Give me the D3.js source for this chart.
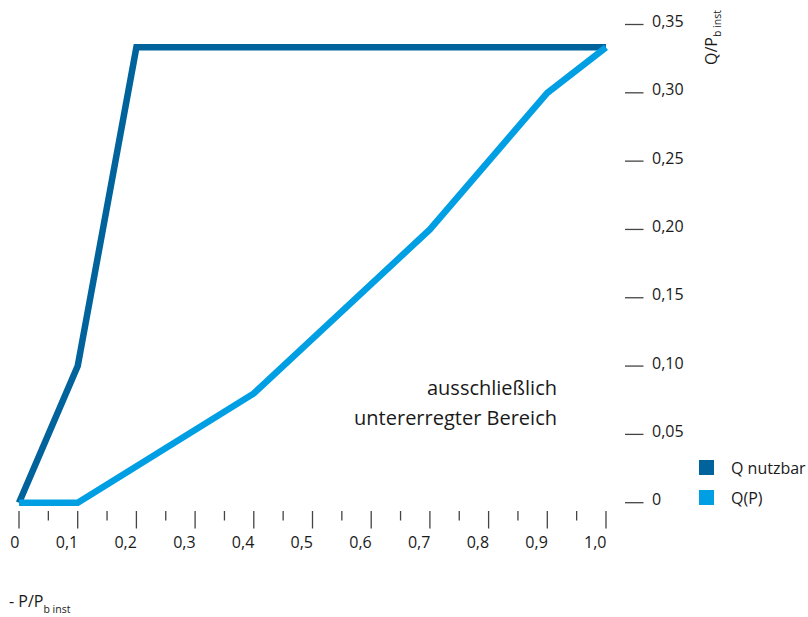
<!DOCTYPE html>
<html>
<head>
<meta charset="utf-8">
<script src="https://cdn.jsdelivr.net/npm/d3@7"></script>
<style>
  html, body { margin: 0; padding: 0; background: #fff; }
  svg { display: block; font-family: "Open Sans", "Noto Sans", sans-serif; }
</style>
</head>
<body>
<svg id="chart" width="808" height="617"></svg>
<script>
// ---- data ----
const seriesNames = ["Q nutzbar", "Q(P)"];
const seriesColors = ["#00639b", "#009fe3"];
const qNutzbarX = [0, 0.1, 0.2, 1.0];
const qNutzbarY = [0, 0.1, 0.3333, 0.3333];
const qpX = [0, 0.1, 0.4, 0.7, 0.9, 1.0];
const qpY = [0, 0, 0.08, 0.2, 0.3, 0.3333];
const xTicks = [0, 0.1, 0.2, 0.3, 0.4, 0.5, 0.6, 0.7, 0.8, 0.9, 1.0];
const xTickLabels = ["0", "0,1", "0,2", "0,3", "0,4", "0,5", "0,6", "0,7", "0,8", "0,9", "1,0"];
const xMinorTicks = [0.05, 0.15, 0.25, 0.35, 0.45, 0.55, 0.65, 0.75, 0.85, 0.95];
const yTicks = [0, 0.05, 0.1, 0.15, 0.2, 0.25, 0.3, 0.35];
const yTickLabels = ["0", "0,05", "0,10", "0,15", "0,20", "0,25", "0,30", "0,35"];
const annotationLines = ["ausschließlich", "untererregter Bereich"];

// ---- layout ----
const svg = d3.select("#chart");
const x = d3.scaleLinear().domain([0, 1]).range([19, 606]);
const y = d3.scaleLinear().domain([0, 0.35]).range([502.7, 24.5]);
const textColor = "#1a1a1a";
const tickColor = "#444";

// x axis ticks (major + minor)
const xAxisG = svg.append("g");
xAxisG.selectAll("line.major").data(xTicks).join("line")
  .attr("class", "major")
  .attr("x1", d => x(d)).attr("x2", d => x(d))
  .attr("y1", 511).attr("y2", 528.5)
  .attr("stroke", tickColor).attr("stroke-width", 1.3);
xAxisG.selectAll("line.minor").data(xMinorTicks).join("line")
  .attr("class", "minor")
  .attr("x1", d => x(d)).attr("x2", d => x(d))
  .attr("y1", 511).attr("y2", 520.5)
  .attr("stroke", tickColor).attr("stroke-width", 1.3);
xAxisG.selectAll("text").data(xTicks).join("text")
  .attr("x", d => x(d) + 0.5).attr("y", 548)
  .attr("text-anchor", "end")
  .attr("font-size", 16).attr("fill", textColor)
  .text((d, i) => xTickLabels[i]);

// y axis ticks (on right)
const yAxisG = svg.append("g");
yAxisG.selectAll("line").data(yTicks).join("line")
  .attr("x1", 625).attr("x2", 643.5)
  .attr("y1", d => y(d)).attr("y2", d => y(d))
  .attr("stroke", tickColor).attr("stroke-width", 1.3);
yAxisG.selectAll("text").data(yTicks).join("text")
  .attr("x", 652).attr("y", d => y(d) + 2.5)
  .attr("font-size", 16).attr("fill", textColor)
  .text((d, i) => yTickLabels[i]);

// y axis title (rotated)
const yt = svg.append("text")
  .attr("transform", "translate(717,65) rotate(-90)")
  .attr("font-size", 16).attr("fill", textColor);
yt.append("tspan").text("Q/P");
yt.append("tspan").attr("font-size", 10.5).attr("dy", 3.5).text("b inst");

// x axis title
const xt = svg.append("text")
  .attr("x", 9).attr("y", 607)
  .attr("font-size", 16).attr("fill", textColor);
xt.append("tspan").text("- P/P");
xt.append("tspan").attr("font-size", 10.5).attr("dy", 6).text("b inst");

// lines
const line = d3.line().x(d => x(d[0])).y(d => y(d[1]));
const seriesData = [
  d3.zip(qNutzbarX, qNutzbarY),
  d3.zip(qpX, qpY)
];
svg.selectAll("path.series").data(seriesData).join("path")
  .attr("class", "series")
  .attr("d", line)
  .attr("fill", "none")
  .attr("stroke", (d, i) => seriesColors[i])
  .attr("stroke-width", 6.5)
  .attr("stroke-linejoin", "miter");

// annotation
svg.append("g").selectAll("text").data(annotationLines).join("text")
  .attr("x", 557).attr("y", (d, i) => 395 + i * 29.5)
  .attr("text-anchor", "end")
  .attr("font-size", 20).attr("fill", textColor)
  .text(d => d);

// legend
const lg = svg.append("g").selectAll("g").data(seriesNames).join("g")
  .attr("transform", (d, i) => `translate(699,${460 + i * 30})`);
lg.append("rect").attr("width", 15).attr("height", 15)
  .attr("fill", (d, i) => seriesColors[i]);
lg.append("text").attr("x", 32).attr("y", 14)
  .attr("font-size", 16).attr("fill", textColor)
  .text(d => d);
</script>
</body>
</html>
